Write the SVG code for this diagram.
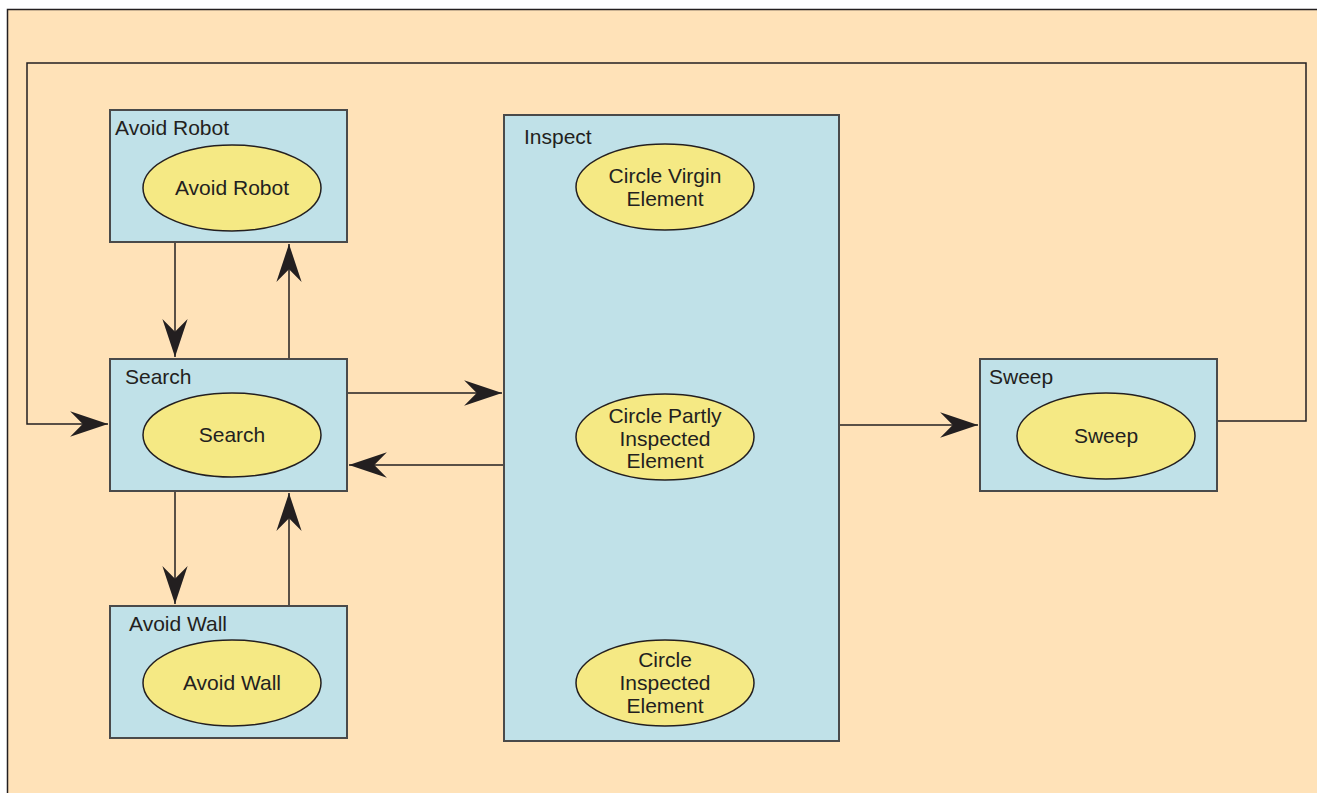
<svg xmlns="http://www.w3.org/2000/svg" width="1317" height="793" viewBox="0 0 1317 793">
<defs>
<style>
.bg{fill:#FFE2B8;stroke:#231F20;stroke-width:1.5}
.box{fill:#C0E1E8;stroke:#4A4A4A;stroke-width:2}
.ell{fill:#F5E984;stroke:#231F20;stroke-width:1.5}
.t{font-family:"Liberation Sans",Arial,sans-serif;font-size:21px;fill:#231F20}
.c{text-anchor:middle}
.ln{fill:none;stroke:#231F20;stroke-width:1.5}
</style>
<marker id="ah" markerUnits="userSpaceOnUse" markerWidth="40" markerHeight="28" viewBox="-37 -13 38 26" refX="0" refY="0" orient="auto">
<path d="M0,0 L-36,-12 L-24,0 L-36,12 Z" fill="#231F20"/>
</marker>
</defs>
<rect x="0" y="0" width="1317" height="793" fill="#FFFFFF"/>
<rect class="bg" x="7.5" y="9.5" width="1320" height="800"/>
<g id="connectors">
<path class="ln" d="M1217,421 H1306 V63 H27 V424 H108" marker-end="url(#ah)"/>
<path class="ln" d="M175,242 V357" marker-end="url(#ah)"/>
<path class="ln" d="M289,359 V244" marker-end="url(#ah)"/>
<path class="ln" d="M175,491 V604" marker-end="url(#ah)"/>
<path class="ln" d="M289,606 V493" marker-end="url(#ah)"/>
<path class="ln" d="M347,393 H502" marker-end="url(#ah)"/>
<path class="ln" d="M504,465 H349" marker-end="url(#ah)"/>
<path class="ln" d="M839,425 H978" marker-end="url(#ah)"/>
</g>
<g id="avoid-robot">
<rect class="box" x="110" y="110" width="237" height="132"/>
<text class="t" x="115" y="135">Avoid Robot</text>
<ellipse class="ell" cx="232" cy="188" rx="89" ry="43"/>
<text class="t c" x="232" y="195">Avoid Robot</text>
</g>
<g id="search">
<rect class="box" x="110" y="359" width="237" height="132"/>
<text class="t" x="125" y="384">Search</text>
<ellipse class="ell" cx="232" cy="435" rx="89" ry="42"/>
<text class="t c" x="232" y="442">Search</text>
</g>
<g id="avoid-wall">
<rect class="box" x="110" y="606" width="237" height="132"/>
<text class="t" x="129" y="631">Avoid Wall</text>
<ellipse class="ell" cx="232" cy="683" rx="89" ry="43"/>
<text class="t c" x="232" y="690">Avoid Wall</text>
</g>
<g id="inspect">
<rect class="box" x="504" y="115" width="335" height="626"/>
<text class="t" x="524" y="144">Inspect</text>
<ellipse class="ell" cx="665" cy="187" rx="89" ry="43"/>
<text class="t c" x="665" y="183">Circle Virgin</text>
<text class="t c" x="665" y="206">Element</text>
<ellipse class="ell" cx="665" cy="437" rx="89" ry="43"/>
<text class="t c" x="665" y="423">Circle Partly</text>
<text class="t c" x="665" y="446">Inspected</text>
<text class="t c" x="665" y="468">Element</text>
<ellipse class="ell" cx="665" cy="683" rx="89" ry="43"/>
<text class="t c" x="665" y="667">Circle</text>
<text class="t c" x="665" y="690">Inspected</text>
<text class="t c" x="665" y="713">Element</text>
</g>
<g id="sweep">
<rect class="box" x="980" y="359" width="237" height="132"/>
<text class="t" x="989" y="384">Sweep</text>
<ellipse class="ell" cx="1106" cy="436" rx="89" ry="43"/>
<text class="t c" x="1106" y="443">Sweep</text>
</g>
</svg>
